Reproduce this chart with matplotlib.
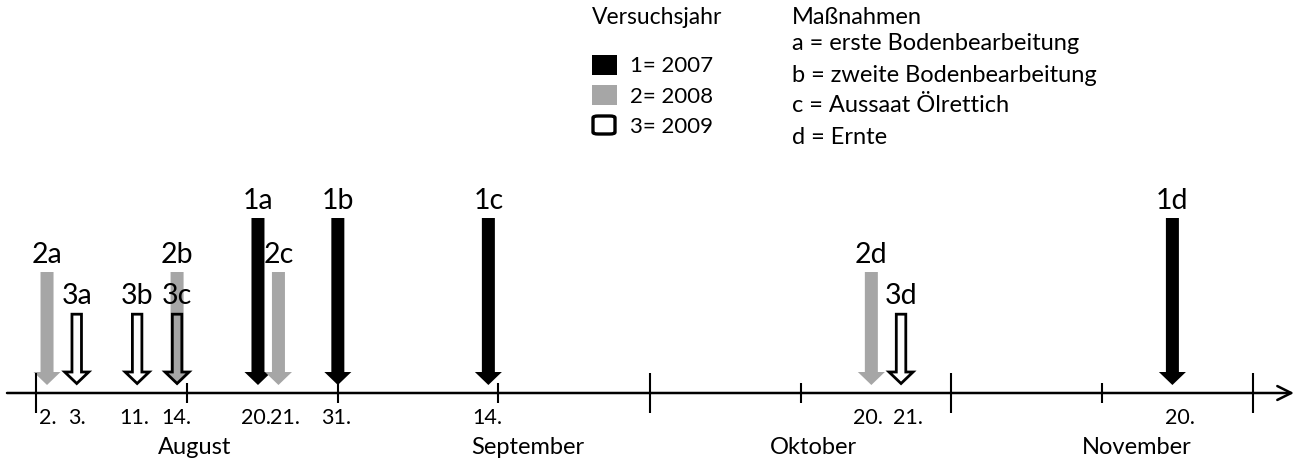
import matplotlib.pyplot as plt
from matplotlib.patches import Rectangle, FancyBboxPatch

plt.rcParams['font.family'] = ['Lato', 'DejaVu Sans']

# events on the drawn timeline (position in days after 31 July)
events = ["2a", "3a", "3b", "2b", "3c", "1a", "2c", "1b", "1c", "2d", "3d", "1d"]
event_pos = [2.2, 5.1, 11.0, 14.9, 14.9, 22.8, 24.8, 30.6, 45.3, 82.7, 85.6, 112.1]

# date labels below the axis
date_labels = ["2.", "3.", "11.", "14.", "20.", "21.", "31.", "14.", "20.", "21.", "20."]
date_pos = [2.3, 5.1, 10.7, 14.8, 22.6, 25.4, 30.4, 45.2, 82.4, 86.3, 112.8]

months = ["August", "September", "Oktober", "November"]
month_pos = [16.6, 49.1, 77.0, 108.6]

# month borders (long ticks) and mid-month ticks (short)
long_ticks = [1.1, 61.1, 90.5, 120.0]
short_ticks = [15.9, 30.6, 46.2, 75.8, 105.2]

years = ["1= 2007", "2= 2008", "3= 2009"]
massnahmen = ["a = erste Bodenbearbeitung", "b = zweite Bodenbearbeitung",
              "c = Aussaat Ölrettich", "d = Ernte"]

GRAY = "#a6a6a6"
W, H = 1298, 461
PX = 10.24      # pixels per day
X0 = 24.5       # pixel of day 0

fig = plt.figure(figsize=(W / 100, H / 100), dpi=100)
ax = fig.add_axes([0, 0, 1, 1])
ax.set_xlim(-X0 / PX, (W - X0) / PX)
ax.set_ylim(-68, 393)
ax.axis('off')

# arrow style per year: top of arrow (px above axis)
year_style = {
    "1": dict(top=175, fc="black", ec="none", lw=0),
    "2": dict(top=121, fc=GRAY, ec="none", lw=0),
    "3": dict(top=80, fc="none", ec="black", lw=2.0),
}
tip = 8

for name, x in zip(events, event_pos):
    st = year_style[name[0]]
    if name[0] == "3":
        w, hw, hl, t = 9.5, 24, 11.5, tip + 1.5
        top = st["top"] - 1.2
    else:
        w, hw, hl, t = 13, 27, 13, tip
        top = st["top"]
    ax.arrow(x, top, 0, -(top - t), width=w / PX, head_width=hw / PX,
             head_length=hl, length_includes_head=True,
             fc=st["fc"], ec=st["ec"], lw=st["lw"], zorder=2)
    ax.text(x, st["top"] + 4, name, ha='center', va='bottom', fontsize=20.5, zorder=4)

# time axis
ax.annotate('', xy=((1294 - X0) / PX, 0), xytext=((7 - X0) / PX, 0),
            arrowprops=dict(arrowstyle='->,head_length=1.0,head_width=0.5',
                            lw=1.8, color='black', mutation_scale=10,
                            shrinkA=0, shrinkB=0), zorder=3)
ax.vlines(long_ticks, -20, 20, color='black', lw=1.5, zorder=3)
ax.vlines(short_ticks, -10, 10, color='black', lw=1.5, zorder=3)

for lab, x in zip(date_labels, date_pos):
    ax.text(x, -25, lab, ha='center', va='center', fontsize=15.5)
for lab, x in zip(months, month_pos):
    ax.text(x, -54, lab, ha='center', va='center', fontsize=17)


def fxy(px, py):
    return px / W, 1 - py / H


# legend: Versuchsjahr
fig.text(*fxy(592, 18), "Versuchsjahr", ha='left', va='center', fontsize=16.5)
for i, lab in enumerate(years):
    fig.text(*fxy(630, 66 + 30.5 * i), lab, ha='left', va='center', fontsize=16)
fig.add_artist(Rectangle(fxy(592, 75), 25 / W, 20 / H, transform=fig.transFigure,
                         fc='black', ec='none'))
fig.add_artist(Rectangle(fxy(592, 105), 25 / W, 20 / H, transform=fig.transFigure,
                         fc=GRAY, ec='none'))
fig.add_artist(FancyBboxPatch(fxy(593, 134), 22 / W, 18 / H, transform=fig.transFigure,
                              boxstyle='round,pad=0,rounding_size=0.004',
                              fc='white', ec='black', lw=2.4))

# legend: Maßnahmen
fig.text(*fxy(792, 18), "Maßnahmen", ha='left', va='center', fontsize=17)
for i, lab in enumerate(massnahmen):
    fig.text(*fxy(792, 44 + 31 * i), lab, ha='left', va='center', fontsize=17)

fig.savefig('out.png', dpi=100)
